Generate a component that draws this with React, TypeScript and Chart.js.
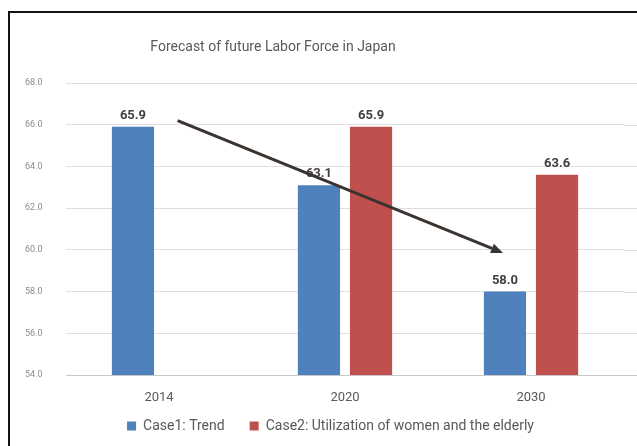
import { useEffect, useRef } from "react";
import { Chart, registerables } from "chart.js";

Chart.register(...registerables);

const titleText = "Forecast of future Labor Force in Japan";
const categories = ["2014", "2020", "2030"];
const seriesNames = ["Case1: Trend", "Case2: Utilization of women and the elderly"];
const case1Values = [65.9, 63.1, 58.0];
const case2Values: (number | null)[] = [null, 65.9, 63.6];
const seriesColors = ["#4F81BD", "#C0504D"];
const yMin = 54;
const yMax = 68;
const yStep = 2;
// trend arrow endpoints in data space: [category index, value]
const arrowFrom = [0.1, 66.2];
const arrowTo = [1.85, 59.85];

const FONT = "Roboto, 'Liberation Sans', sans-serif";

const extendGrid = {
  id: "extendGrid",
  beforeDatasetsDraw(chart: any) {
    const { ctx, chartArea, scales } = chart;
    const y = scales.y;
    ctx.save();
    ctx.lineWidth = 1;
    y.ticks.forEach((t: any) => {
      const py = Math.round(y.getPixelForValue(t.value)) + 0.5;
      ctx.strokeStyle = t.value === yMin ? "#c8c8c8" : "#dedede";
      ctx.beginPath();
      ctx.moveTo(chartArea.right, py);
      ctx.lineTo(chart.width, py);
      ctx.stroke();
    });
    ctx.restore();
  },
};

const valueLabels = {
  id: "valueLabels",
  afterDatasetsDraw(chart: any) {
    const { ctx } = chart;
    ctx.save();
    ctx.font = `bold 13px ${FONT}`;
    ctx.fillStyle = "#404040";
    ctx.textAlign = "center";
    ctx.textBaseline = "alphabetic";
    chart.data.datasets.forEach((ds: any, di: number) => {
      const meta = chart.getDatasetMeta(di);
      meta.data.forEach((el: any, i: number) => {
        const v = ds.data[i];
        if (v === null || v === undefined) return;
        ctx.fillText(Number(v).toFixed(1), el.x, el.y - 8);
      });
    });
    ctx.restore();
  },
};

const trendArrow = {
  id: "trendArrow",
  afterDatasetsDraw(chart: any) {
    const { ctx, scales } = chart;
    const x1 = scales.x.getPixelForValue(arrowFrom[0]);
    const y1 = scales.y.getPixelForValue(arrowFrom[1]);
    const x2 = scales.x.getPixelForValue(arrowTo[0]);
    const y2 = scales.y.getPixelForValue(arrowTo[1]);
    const ang = Math.atan2(y2 - y1, x2 - x1);
    const headLen = 12;
    const headHalf = 5;
    const bx = x2 - headLen * Math.cos(ang);
    const by = y2 - headLen * Math.sin(ang);
    ctx.save();
    ctx.strokeStyle = "#3b3330";
    ctx.fillStyle = "#3b3330";
    ctx.lineWidth = 3;
    ctx.beginPath();
    ctx.moveTo(x1, y1);
    ctx.lineTo(bx, by);
    ctx.stroke();
    ctx.beginPath();
    ctx.moveTo(x2, y2);
    ctx.lineTo(bx + headHalf * Math.sin(ang), by - headHalf * Math.cos(ang));
    ctx.lineTo(bx - headHalf * Math.sin(ang), by + headHalf * Math.cos(ang));
    ctx.closePath();
    ctx.fill();
    ctx.restore();
  },
};

const chartTitle = {
  id: "chartTitle",
  afterDraw(chart: any) {
    const { ctx } = chart;
    ctx.save();
    ctx.font = `14px ${FONT}`;
    ctx.fillStyle = "#595959";
    ctx.textAlign = "center";
    ctx.textBaseline = "middle";
    ctx.fillText(titleText, 273, 47);
    ctx.restore();
  },
};

export default function App() {
  const ref = useRef<HTMLCanvasElement | null>(null);
  useEffect(() => {
    if (!ref.current) return;
    const chart = new Chart(ref.current, {
      type: "bar",
      data: {
        labels: categories,
        datasets: [
          {
            label: seriesNames[0],
            data: case1Values,
            backgroundColor: seriesColors[0],
            categoryPercentage: 0.56,
            barPercentage: 0.81,
          },
          {
            label: seriesNames[1],
            data: case2Values,
            backgroundColor: seriesColors[1],
            categoryPercentage: 0.56,
            barPercentage: 0.81,
          },
        ],
      },
      options: {
        animation: false,
        responsive: true,
        maintainAspectRatio: false,
        layout: { padding: { left: 37, right: 13, top: 83, bottom: 3 } },
        plugins: {
          title: { display: false },
          tooltip: { enabled: false },
          legend: {
            position: "bottom",
            labels: {
              boxWidth: 9,
              boxHeight: 9,
              padding: 25,
              color: "#595959",
              font: { family: FONT, size: 14 },
            },
          },
        },
        scales: {
          x: {
            grid: { display: false, drawTicks: false },
            border: { display: true, color: "#c8c8c8" },
            ticks: {
              color: "#595959",
              font: { family: FONT, size: 13 },
              mirror: true,
              padding: -30.8,
            },
            afterFit: (s: any) => {
              s.height = 19;
            },
          },
          y: {
            min: yMin,
            max: yMax,
            grid: { color: "#dedede", drawTicks: false },
            border: { display: false },
            ticks: {
              stepSize: yStep,
              mirror: true,
              padding: -41,
              color: "#8c8c8c",
              font: { family: FONT, size: 9 },
              callback: (v: any) => Number(v).toFixed(1),
            },
            afterFit: (s: any) => {
              s.width = 29;
            },
          },
        },
      },
      plugins: [extendGrid, valueLabels, trendArrow, chartTitle],
    });
    return () => chart.destroy();
  }, []);

  return (
    <div style={{ position: "absolute", left: 0, top: 0, width: 637, height: 446, background: "#fff" }}>
      <canvas ref={ref} />
      <div
        style={{
          position: "absolute",
          left: 8,
          top: 11,
          width: 627,
          height: 433,
          borderTop: "2px solid #111",
          borderLeft: "2px solid #111",
          pointerEvents: "none",
        }}
      />
    </div>
  );
}
